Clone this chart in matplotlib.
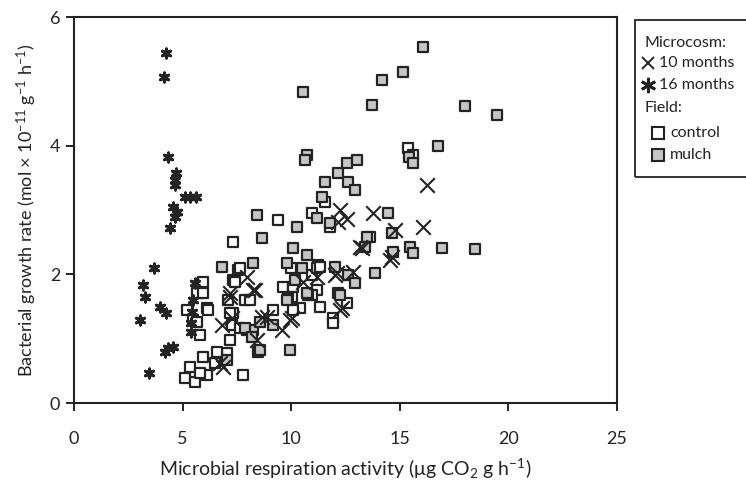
import matplotlib

matplotlib.use("Agg")
import matplotlib.pyplot as plt
from matplotlib.lines import Line2D
from matplotlib.patches import Rectangle

plt.rcParams["font.family"] = ["Lato", "DejaVu Sans"]
plt.rcParams["mathtext.default"] = "regular"

INK = "#232323"

# microcosm, 10 months (thin crosses)
m10_x = [16.23, 16.05, 14.76, 13.75, 12.23, 12.55, 12.14, 13.24, 14.53, 12.0,
         12.83, 8.32, 7.95, 8.23, 13.15, 14.62, 12.23, 9.93, 8.87, 12.09,
         7.17, 6.80, 7.26, 8.64, 8.41, 9.56, 10.02, 6.71, 12.32, 11.17,
         10.53, 7.17, 6.85]
m10_y = [3.39, 2.74, 2.69, 2.95, 3.00, 2.87, 2.81, 2.41, 2.22, 1.99,
         2.04, 1.76, 1.96, 1.76, 2.43, 2.27, 1.45, 1.29, 1.34, 2.02,
         1.71, 1.21, 1.32, 1.34, 0.98, 1.13, 1.32, 0.62, 1.48, 1.96,
         1.88, 1.65, 0.56]

# microcosm, 16 months (bold asterisks)
m16_x = [4.23, 4.14, 4.32, 4.69, 4.64, 4.64, 5.10, 5.35, 5.60, 4.55,
         4.74, 4.64, 4.41, 3.68, 3.17, 3.26, 3.95, 4.23, 3.03, 4.32,
         4.55, 4.18, 3.45, 5.56, 5.43, 5.38, 5.38, 5.47]
m16_y = [5.44, 5.07, 3.83, 3.58, 3.47, 3.39, 3.20, 3.20, 3.20, 3.05,
         2.97, 2.89, 2.72, 2.10, 1.84, 1.65, 1.49, 1.40, 1.29, 0.86,
         0.87, 0.79, 0.47, 1.87, 1.42, 1.24, 1.10, 1.60]

# field, control (open squares)
ctrl_x = [7.31, 5.93, 5.66, 5.20, 6.11, 5.47, 5.79, 7.31, 7.86, 7.03,
          5.93, 5.33, 5.10, 5.56, 6.11, 6.48, 7.77, 7.31, 7.54, 7.40,
          7.17, 6.57, 5.79, 9.61, 10.07, 10.39, 11.31, 11.91, 11.22, 10.94,
          10.02, 9.38, 15.36, 10.94, 11.77, 13.61, 11.17, 11.54, 11.31, 11.17,
          11.91, 12.55, 8.09, 9.15, 10.07, 10.94, 10.0, 15.6, 5.93, 5.66,
          6.16, 7.08, 7.17, 7.26, 7.63, 7.63]
ctrl_y = [2.50, 1.88, 1.71, 1.45, 1.48, 1.29, 1.06, 1.91, 1.60, 0.78,
          0.72, 0.56, 0.39, 0.33, 0.44, 0.62, 0.44, 1.40, 2.07, 1.88,
          0.98, 0.79, 0.47, 1.80, 1.80, 1.48, 1.49, 1.32, 2.15, 1.99,
          1.65, 2.85, 3.97, 2.95, 2.74, 2.58, 2.10, 3.13, 2.12, 1.76,
          1.24, 1.56, 1.60, 1.45, 1.45, 1.68, 2.10, 3.85, 1.71, 1.26,
          1.45, 1.60, 1.40, 1.21, 1.17, 2.10]

# field, mulch (grey squares)
mulch_x = [16.05, 15.13, 14.16, 17.98, 19.49, 16.74, 15.40, 15.59, 14.44, 14.62,
           15.45, 14.67, 15.59, 16.92, 18.48, 13.70, 10.71, 10.62, 12.55, 13.01,
           12.14, 11.54, 12.60, 12.92, 11.40, 8.41, 10.25, 11.17, 11.77, 8.64,
           10.07, 10.71, 13.47, 13.38, 8.23, 9.79, 10.48, 12.0, 12.60, 13.84,
           10.16, 10.76, 12.14, 12.92, 9.84, 7.95, 8.46, 9.93, 6.80, 8.23,
           8.55, 9.79, 10.71, 12.23, 7.03, 7.86, 9.15, 10.55, 8.55, 8.18]
mulch_y = [5.54, 5.15, 5.02, 4.62, 4.48, 4.00, 3.83, 3.73, 2.95, 2.64,
           2.43, 2.35, 2.33, 2.41, 2.40, 4.64, 3.86, 3.78, 3.73, 3.78,
           3.58, 3.44, 3.44, 3.31, 3.20, 2.92, 2.74, 2.88, 2.80, 2.57,
           2.41, 2.30, 2.58, 2.43, 2.18, 2.18, 2.10, 2.12, 1.99, 2.02,
           1.91, 1.68, 1.71, 1.87, 1.63, 1.14, 0.79, 0.82, 2.12, 1.14,
           0.82, 1.60, 1.71, 1.68, 0.67, 1.17, 1.21, 4.84, 1.26, 1.03]

fig = plt.figure(figsize=(7.46, 4.91), dpi=100)
ax = fig.add_axes([0.0992, 0.179, 0.728, 0.786])

sq = dict(marker="s", s=62, linewidths=1.6, edgecolors=INK)
ax.scatter(ctrl_x, ctrl_y, facecolors="white", zorder=3, **sq)
ax.scatter(mulch_x, mulch_y, facecolors="#c6c6c6", zorder=3, **sq)
ax.scatter(m10_x, m10_y, marker="x", s=110, linewidths=1.5, color=INK, zorder=4)
ax.scatter(m16_x, m16_y, marker=(6, 2, 0), s=42, linewidths=2.2, color=INK, zorder=4)

ax.set_xlim(0, 25)
ax.set_ylim(0, 6)
ax.set_xticks([0, 5, 10, 15, 20, 25])
ax.set_yticks([0, 2, 4, 6])
ax.tick_params(direction="out", length=6, width=1.4, color=INK,
               labelsize=13, labelcolor=INK, pad=4)
ax.tick_params(axis="x", pad=14)
for sp in ax.spines.values():
    sp.set_linewidth(1.5)
    sp.set_color(INK)

ax.set_xlabel(r"Microbial respiration activity ($\mu$g CO$_2$ g h$^{-1}$)",
              fontsize=14, color=INK, labelpad=7)
ax.set_ylabel(r"Bacterial growth rate (mol $\times$ 10$^{-11}$ g$^{-1}$ h$^{-1}$)",
              fontsize=13, color=INK, labelpad=8)

# legend box drawn by hand, cut at the right edge like the original
W, H = 746.0, 491.0


def fx(px):
    return px / W


def fy(py):
    return 1 - py / H


fig.add_artist(Rectangle((fx(635), fy(177)), fx(760) - fx(635), fy(20) - fy(177),
                         transform=fig.transFigure, fill=False,
                         edgecolor=INK, linewidth=1.3))
lt = dict(fontsize=11.5, color=INK, va="center", ha="left")
fig.text(fx(644), fy(43), "Microcosm:", **lt)
fig.text(fx(659), fy(63), "10 months", **lt)
fig.text(fx(659), fy(85), "16 months", **lt)
fig.text(fx(644), fy(108), "Field:", **lt)
fig.text(fx(670), fy(133), "control", **lt)
fig.text(fx(670), fy(155), "mulch", **lt)
fig.add_artist(Line2D([fx(648)], [fy(63)], marker="x", markersize=9,
                      markeredgewidth=1.4, color=INK, transform=fig.transFigure))
fig.add_artist(Line2D([fx(648)], [fy(85)], marker=(6, 2, 0), markersize=11,
                      markeredgewidth=2.0, color=INK, transform=fig.transFigure))
fig.add_artist(Line2D([fx(658)], [fy(133)], marker="s", markersize=8,
                      markeredgewidth=1.5, markerfacecolor="white",
                      markeredgecolor=INK, transform=fig.transFigure))
fig.add_artist(Line2D([fx(658)], [fy(155)], marker="s", markersize=8,
                      markeredgewidth=1.5, markerfacecolor="#c6c6c6",
                      markeredgecolor=INK, transform=fig.transFigure))

fig.savefig("out.png", dpi=100)
